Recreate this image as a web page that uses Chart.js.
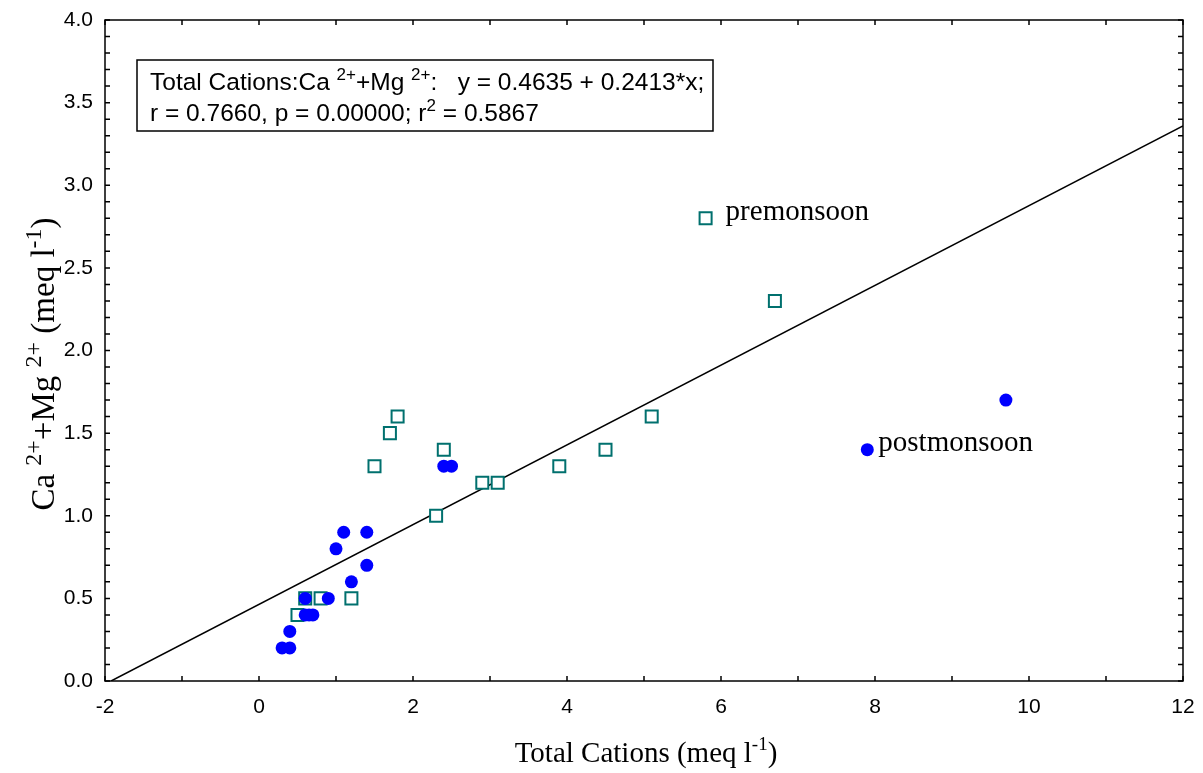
<!DOCTYPE html>
<html>
<head>
<meta charset="utf-8">
<title>Ca+Mg vs Total Cations</title>
<script src="https://cdn.jsdelivr.net/npm/chart.js@4.4.1/dist/chart.umd.min.js"></script>
<style>
  html, body { margin: 0; padding: 0; background: #fff; }
  #wrap { width: 1203px; height: 773px; position: relative; }
</style>
</head>
<body>
<div id="wrap"><canvas id="myChart"></canvas></div>
<script>
// premonsoon (hollow squares)
var preX = [0.5, 0.6, 0.8, 1.2, 1.5, 1.7, 1.8, 2.3, 2.4, 2.9, 3.1, 3.9, 4.5, 5.1, 5.8, 6.7];
var preY = [0.4, 0.5, 0.5, 0.5, 1.3, 1.5, 1.6, 1.0, 1.4, 1.2, 1.2, 1.3, 1.4, 1.6, 2.8, 2.3];
// postmonsoon (filled circles)
var postX = [0.3, 0.4, 0.4, 0.6, 0.65, 0.7, 0.6, 0.9, 1.2, 1.0, 1.1, 1.4, 1.4, 2.4, 2.5, 7.9, 9.7];
var postY = [0.2, 0.2, 0.3, 0.4, 0.4, 0.4, 0.5, 0.5, 0.6, 0.8, 0.9, 0.9, 0.7, 1.3, 1.3, 1.4, 1.7];
// fitted line from the legend
var intercept = 0.4635;
var slope = 0.2413;
var xTicks = [-2, 0, 2, 4, 6, 8, 10, 12];
var yTicks = [0.0, 0.5, 1.0, 1.5, 2.0, 2.5, 3.0, 3.5, 4.0];
var seriesNames = ["premonsoon", "postmonsoon"];

const toPoints = (xs, ys) => xs.map((x, i) => ({x: x, y: ys[i]}));

var xStart = -intercept / slope;
var xEnd = 12;
var fitLine = [
  {x: xStart, y: intercept + slope * xStart},
  {x: xEnd, y: intercept + slope * xEnd}
];

const SERIF = '"Liberation Serif", "Times New Roman", serif';
const SANS = '"Liberation Sans", Arial, sans-serif';
const TEAL = '#00706e';
const BLUE = '#0000ff';

// draws text runs, some of them raised as superscripts
function drawRuns(ctx, runs, x, y, size, family, align, supRatio) {
  var ss = Math.round(size * (supRatio || 0.65));
  var widths = runs.map(r => {
    ctx.font = (r.sup ? ss : size) + 'px ' + family;
    return ctx.measureText(r.t).width;
  });
  var total = widths.reduce((a, b) => a + b, 0);
  var cx = align === 'center' ? x - total / 2 : x;
  ctx.textAlign = 'left';
  ctx.textBaseline = 'alphabetic';
  runs.forEach((r, i) => {
    ctx.font = (r.sup ? ss : size) + 'px ' + family;
    ctx.fillText(r.t, cx, r.sup ? y - size * 0.4 : y);
    cx += widths[i];
  });
}

const framePlugin = {
  id: 'frame',
  afterDatasetsDraw(chart) {
    var ctx = chart.ctx, a = chart.chartArea;
    var xs = chart.scales.x, ys = chart.scales.y;
    ctx.save();
    ctx.strokeStyle = '#000';
    ctx.lineWidth = 1.5;
    ctx.strokeRect(a.left, a.top, a.right - a.left, a.bottom - a.top);
    var t = 5;
    ctx.beginPath();
    for (var v = -2; v <= 12; v++) {
      var px = xs.getPixelForValue(v);
      ctx.moveTo(px, a.bottom); ctx.lineTo(px, a.bottom - t);
      ctx.moveTo(px, a.top); ctx.lineTo(px, a.top + t);
    }
    for (var k = 0; k <= 40; k++) {
      var py = ys.getPixelForValue(k / 10);
      ctx.moveTo(a.left, py); ctx.lineTo(a.left + t, py);
      ctx.moveTo(a.right, py); ctx.lineTo(a.right - t, py);
    }
    ctx.stroke();

    // series labels next to points
    ctx.fillStyle = '#000';
    ctx.font = '29px ' + SERIF;
    ctx.textBaseline = 'alphabetic';
    ctx.fillText(seriesNames[0], xs.getPixelForValue(5.8) + 20, ys.getPixelForValue(2.8) + 2);
    ctx.fillText(seriesNames[1], xs.getPixelForValue(7.9) + 11, ys.getPixelForValue(1.4) + 1);

    // regression box
    ctx.fillStyle = '#fff';
    ctx.fillRect(137, 60, 576, 71);
    ctx.strokeStyle = '#000';
    ctx.lineWidth = 1.5;
    ctx.strokeRect(137, 60, 576, 71);
    ctx.fillStyle = '#000';
    drawRuns(ctx, [
      {t: 'Total Cations:Ca '}, {t: '2+', sup: true}, {t: '+Mg '}, {t: '2+', sup: true},
      {t: ':   y = 0.4635 + 0.2413*x;'}
    ], 150, 90, 24.5, SANS, 'left', 0.68);
    drawRuns(ctx, [
      {t: 'r = 0.7660, p = 0.00000; r'}, {t: '2', sup: true}, {t: ' = 0.5867'}
    ], 150, 121, 24.5, SANS, 'left', 0.68);

    // axis titles
    drawRuns(ctx, [
      {t: 'Total Cations (meq l'}, {t: '-1', sup: true}, {t: ')'}
    ], 646, 762, 29, SERIF, 'center', 0.65);
    ctx.save();
    ctx.translate(54, 364);
    ctx.rotate(-Math.PI / 2);
    drawRuns(ctx, [
      {t: 'Ca '}, {t: '2+', sup: true}, {t: '+Mg '}, {t: '2+', sup: true},
      {t: ' (meq l'}, {t: '-1', sup: true}, {t: ')'}
    ], 0, 0, 33, SERIF, 'center', 0.72);
    ctx.restore();
    ctx.restore();
  }
};

new Chart("myChart", {
  type: 'scatter',
  data: {
    datasets: [{
      label: seriesNames[1],
      data: toPoints(postX, postY),
      pointStyle: 'circle',
      pointRadius: 6.5,
      pointBackgroundColor: BLUE,
      pointBorderColor: BLUE,
      pointBorderWidth: 0
    }, {
      label: seriesNames[0],
      data: toPoints(preX, preY),
      pointStyle: 'rect',
      pointRadius: 8.5,
      pointBackgroundColor: '#fff',
      pointBorderColor: TEAL,
      pointBorderWidth: 2
    }, {
      type: 'line',
      label: 'fit',
      data: fitLine,
      borderColor: '#000',
      borderWidth: 1.5,
      pointRadius: 0,
      fill: false
    }]
  },
  options: {
    responsive: true,
    maintainAspectRatio: false,
    animation: false,
    layout: { padding: { top: 20, right: 20, left: 0, bottom: 0 } },
    plugins: { legend: { display: false }, tooltip: { enabled: false } },
    scales: {
      x: {
        type: 'linear',
        min: -2, max: 12,
        afterFit: s => { s.height = 92; s.paddingLeft = 0; s.paddingRight = 0; },
        afterBuildTicks: s => { s.ticks = xTicks.map(v => ({value: v})); },
        grid: { display: false, drawTicks: false },
        border: { display: false },
        ticks: {
          padding: 14,
          color: '#000',
          font: { family: SANS, size: 21 },
          callback: v => String(v)
        }
      },
      y: {
        type: 'linear',
        min: 0, max: 4,
        afterFit: s => { s.width = 105; s.paddingTop = 0; s.paddingBottom = 0; },
        afterBuildTicks: s => { s.ticks = yTicks.map(v => ({value: v})); },
        grid: { display: false, drawTicks: false },
        border: { display: false },
        ticks: {
          padding: 12,
          color: '#000',
          font: { family: SANS, size: 21 },
          callback: v => Number(v).toFixed(1)
        }
      }
    }
  },
  plugins: [framePlugin, {
    id: 'bg',
    beforeDraw(chart) {
      var ctx = chart.ctx;
      ctx.save();
      ctx.fillStyle = '#fff';
      ctx.fillRect(0, 0, chart.width, chart.height);
      ctx.restore();
    }
  }]
});
</script>
</body>
</html>
